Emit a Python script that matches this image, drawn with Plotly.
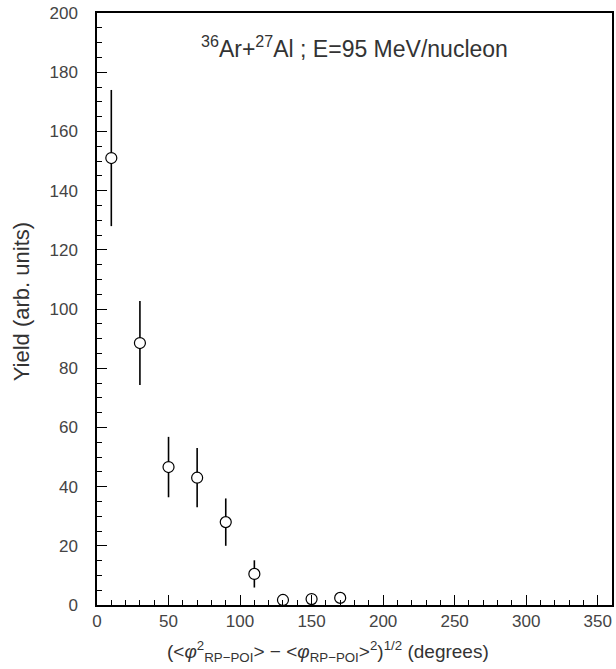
import plotly.graph_objects as go

x_deg = [10, 30, 50, 70, 90, 110, 130, 150, 170]
yield_vals = [151, 88.5, 46.6, 43.0, 28.0, 10.5, 1.7, 2.0, 2.4]
yield_err = [23, 14.2, 10.2, 10.0, 8.0, 4.6, 0.8, 0.8, 0.8]

x_ticks = [0, 50, 100, 150, 200, 250, 300, 350]
y_ticks = [0, 20, 40, 60, 80, 100, 120, 140, 160, 180, 200]

FONT = "Liberation Sans"

fig = go.Figure()
fig.add_trace(go.Scatter(
    x=x_deg, y=yield_vals, mode="markers",
    marker=dict(symbol="circle", size=11, color="white",
                line=dict(color="black", width=1.2)),
    error_y=dict(type="data", array=yield_err, visible=True,
                 color="black", thickness=1.6, width=0),
    showlegend=False,
))

axis_common = dict(
    showline=True, linecolor="black", linewidth=1.5, mirror=True,
    ticks="inside", ticklen=10, tickwidth=1.2, tickcolor="black",
    showgrid=False, zeroline=False,
    tickfont=dict(family=FONT, size=17, color="#444"),
)

fig.update_layout(
    width=616, height=669,
    margin=dict(l=97, r=2, t=13, b=64),
    paper_bgcolor="white", plot_bgcolor="white",
    xaxis=dict(range=[0, 360], tickvals=x_ticks,
               minor=dict(dtick=10, ticks="inside", ticklen=5, tickcolor="black", tickwidth=1),
               ticklabelstandoff=0,
               **axis_common),
    yaxis=dict(range=[0, 200], tickvals=y_ticks,
               minor=dict(dtick=5, ticks="inside", ticklen=5, tickcolor="black", tickwidth=1),
               ticklabelstandoff=14,
               **axis_common),
    annotations=[
        dict(text="<sup>36</sup>Ar+<sup>27</sup>Al ; E=95 MeV/nucleon",
             xref="paper", yref="paper", x=(355 - 97) / 517, y=(605 - 47) / 592,
             xanchor="center", yanchor="middle", showarrow=False,
             font=dict(family=FONT, size=23, color="#333")),
        dict(text="(&lt;<i>φ</i><sup>2</sup><sub>RP−POI</sub>&gt; − &lt;<i>φ</i><sub>RP−POI</sub>&gt;<sup>2</sup>)<sup>1/2</sup> (degrees)",
             xref="paper", yref="paper", x=(329 - 97) / 517, y=-(651 - 605) / 592,
             xanchor="center", yanchor="middle", showarrow=False,
             font=dict(family=FONT, size=19, color="#333")),
        dict(text="Yield (arb. units)", textangle=-90,
             xref="paper", yref="paper", x=-(97 - 21) / 517, y=(605 - 302) / 592,
             xanchor="center", yanchor="middle", showarrow=False,
             font=dict(family=FONT, size=22, color="#333")),
    ],
)

fig.write_html("out.html")
